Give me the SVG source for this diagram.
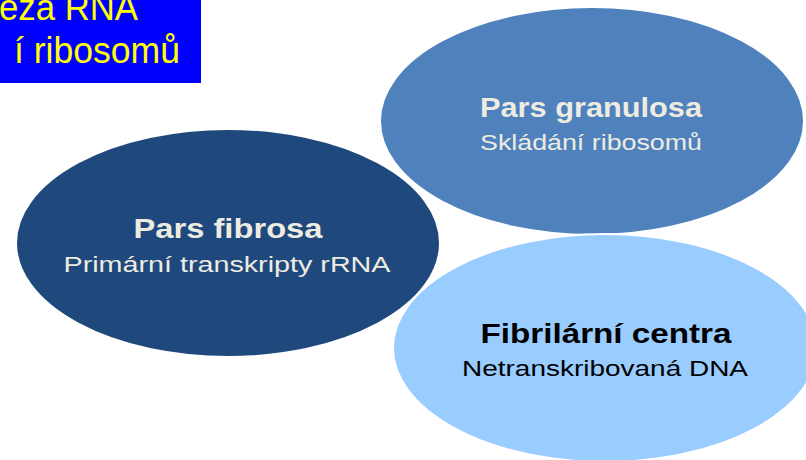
<svg xmlns="http://www.w3.org/2000/svg" width="806" height="460" viewBox="0 0 806 460">
<style>
.t{font-family:"Liberation Sans","DejaVu Sans",sans-serif;text-anchor:middle}
.b{font-weight:bold;font-size:27px}
.r{font-size:22px}
.lt{fill:#EEECE1}
.dk{fill:#000000}
.ell{stroke:#FFFFFF;stroke-width:2}
.title{font-family:"Liberation Sans","DejaVu Sans",sans-serif;font-size:36px;fill:#FFFF00}
</style>
<rect width="806" height="460" fill="#FFFFFF"/>
<g id="title-box">
<rect x="-2" y="-2" width="203" height="85" fill="#0000FF"/>
<text class="title" x="-1" y="20" textLength="139" lengthAdjust="spacingAndGlyphs">eza RNA</text>
<text class="title" x="14" y="63" textLength="166" lengthAdjust="spacingAndGlyphs">í ribosomů</text>
</g>
<g id="connectors"></g>
<g id="pars-granulosa">
<ellipse class="ell" cx="592" cy="121" rx="212" ry="114" fill="#4F81BD"/>
<text class="t b lt" x="591" y="117" textLength="222" lengthAdjust="spacingAndGlyphs">Pars granulosa</text>
<text class="t r lt" x="591" y="150" textLength="222" lengthAdjust="spacingAndGlyphs">Skládání ribosomů</text>
</g>
<g id="pars-fibrosa">
<ellipse class="ell" cx="228" cy="243" rx="212" ry="114" fill="#1F497D"/>
<text class="t b lt" x="228" y="238" textLength="189" lengthAdjust="spacingAndGlyphs">Pars fibrosa</text>
<text class="t r lt" x="227" y="272" textLength="327" lengthAdjust="spacingAndGlyphs">Primární transkripty rRNA</text>
</g>
<g id="fibrilarni-centra">
<ellipse class="ell" cx="605" cy="348" rx="212" ry="114" fill="#99CCFF"/>
<text class="t b dk" x="606" y="343" textLength="251" lengthAdjust="spacingAndGlyphs">Fibrilární centra</text>
<text class="t r dk" x="605" y="376" textLength="286" lengthAdjust="spacingAndGlyphs">Netranskribovaná DNA</text>
</g>
</svg>
